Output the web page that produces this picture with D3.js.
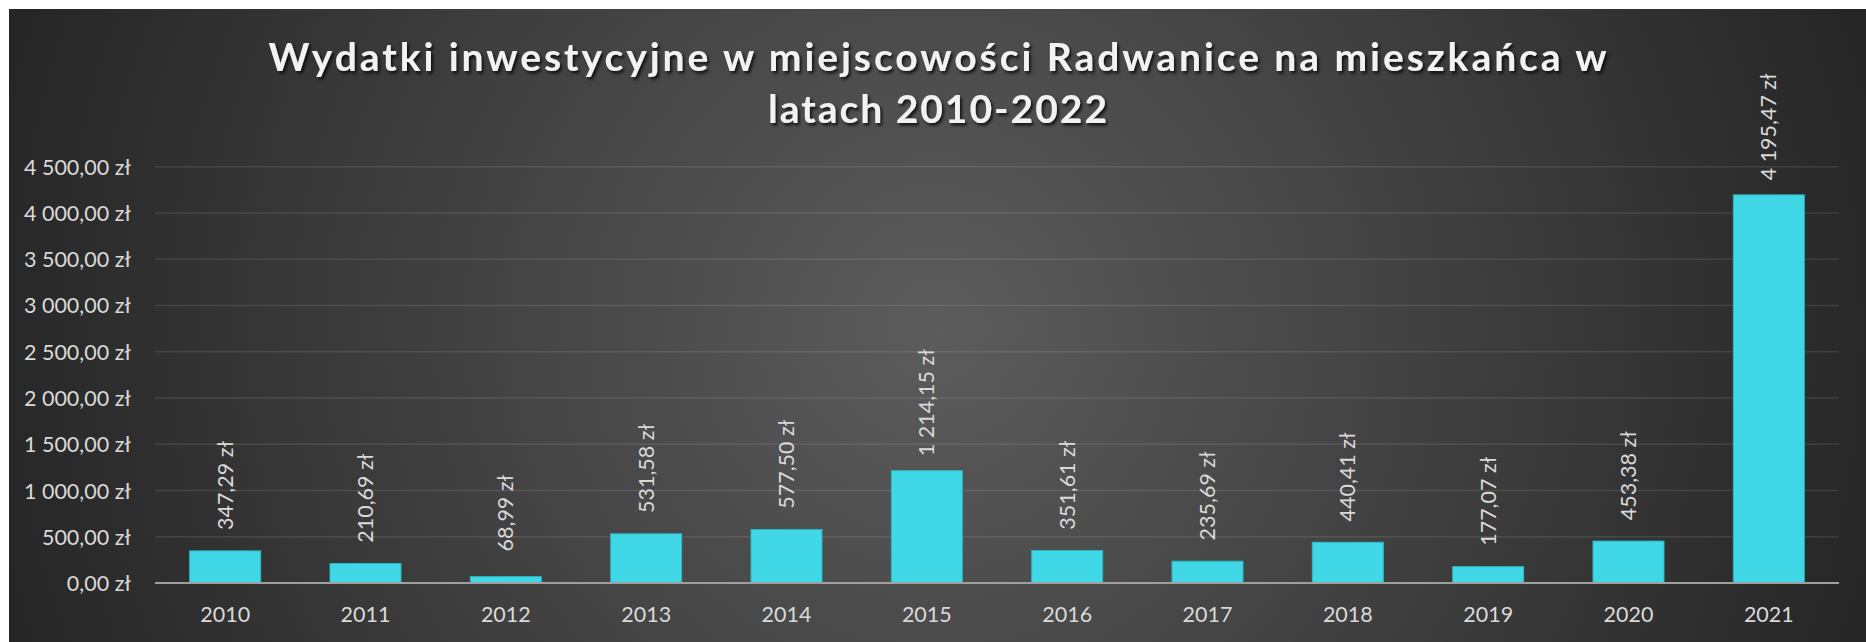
<!DOCTYPE html>
<html>
<head>
<meta charset="utf-8">
<script src="https://cdn.jsdelivr.net/npm/d3@7"></script>
<style>
  html, body { margin: 0; padding: 0; background: #ffffff; }
  svg { display: block; }
</style>
</head>
<body>
<svg id="chart" width="1866" height="642"></svg>
<script>
const categories = ["2010","2011","2012","2013","2014","2015","2016","2017","2018","2019","2020","2021"];
const values = [347.29, 210.69, 68.99, 531.58, 577.50, 1214.15, 351.61, 235.69, 440.41, 177.07, 453.38, 4195.47];
const yTicks = [0, 500, 1000, 1500, 2000, 2500, 3000, 3500, 4000, 4500];
const titleLines = ["Wydatki inwestycyjne w miejscowości Radwanice na mieszkańca w", "latach 2010-2022"];

const W = 1866, H = 642;
const svg = d3.select("#chart");

const pl = d3.formatLocale({decimal: ",", thousands: "\u00a0", grouping: [3], currency: ["", " zł"]});
const fmt = v => pl.format(",.2f")(v) + " zł";

const defs = svg.append("defs");
const grad = defs.append("radialGradient")
  .attr("id", "bg").attr("gradientUnits", "userSpaceOnUse")
  .attr("cx", 937).attr("cy", 330).attr("r", 960);
grad.append("stop").attr("offset", 0).attr("stop-color", "#5c5c5c");
grad.append("stop").attr("offset", 1).attr("stop-color", "#262626");

const sh = defs.append("filter").attr("id", "tshadow").attr("x", "-5%").attr("y", "-30%").attr("width", "110%").attr("height", "160%");
sh.append("feDropShadow").attr("dx", 2).attr("dy", 2.5).attr("stdDeviation", 1.6)
  .attr("flood-color", "#000").attr("flood-opacity", 0.75);

svg.append("rect").attr("x", 9).attr("y", 9).attr("width", W - 9).attr("height", H - 9).attr("fill", "url(#bg)");

const plot = {left: 155, right: 1839, top: 166.7, bottom: 583};

const x = d3.scaleBand().domain(categories).range([plot.left, plot.right])
  .paddingInner(0.494).paddingOuter(0.247);
const y = d3.scaleLinear().domain([0, 4500]).range([plot.bottom, plot.top]);

// gridlines
svg.append("g").selectAll("line").data(yTicks.filter(d => d > 0)).join("line")
  .attr("x1", plot.left).attr("x2", plot.right)
  .attr("y1", d => y(d)).attr("y2", d => y(d))
  .attr("stroke", "rgba(255,255,255,0.1)").attr("stroke-width", 1.5);

// y axis labels
const yAxis = d3.axisLeft(y).tickValues(yTicks).tickFormat(fmt).tickSize(0).tickPadding(0);
const gy = svg.append("g").attr("transform", `translate(131,0)`).call(yAxis);
gy.select(".domain").remove();
gy.selectAll("text").attr("fill", "#d9d9d9").attr("font-family", "Lato, 'Open Sans', sans-serif")
  .attr("font-size", 21.5).attr("dy", "0.35em").attr("x", 0);

// bars
svg.append("g").selectAll("rect").data(values).join("rect")
  .attr("x", (d, i) => x(categories[i]))
  .attr("width", x.bandwidth())
  .attr("y", d => y(d))
  .attr("height", d => plot.bottom - y(d))
  .attr("fill", "#40d8e7")
  .attr("stroke", "#30b4c2").attr("stroke-width", 1);

// x axis
const xAxis = d3.axisBottom(x).tickSize(0).tickPadding(0);
const gx = svg.append("g").attr("transform", `translate(0,${plot.bottom})`).call(xAxis);
gx.select(".domain").remove();
gx.selectAll("text").attr("fill", "#d9d9d9").attr("font-family", "Lato, 'Open Sans', sans-serif")
  .attr("font-size", 21.5).attr("dy", 0).attr("y", 39);
svg.append("line").attr("x1", plot.left).attr("x2", plot.right)
  .attr("y1", plot.bottom).attr("y2", plot.bottom)
  .attr("stroke", "#a0a0a0").attr("stroke-width", 2);

// data labels (rotated)
const lbl = svg.append("g").selectAll("text").data(values).join("text")
  .attr("fill", "#d9d9d9").attr("font-family", "Lato, 'Open Sans', sans-serif")
  .attr("font-size", 21.5).attr("text-anchor", "start").attr("dy", "0.35em")
  .text(d => fmt(d));
lbl.each(function(d, i) {
  const L = this.getComputedTextLength();
  const gap = 52 - 0.35 * L;
  const cx = x(categories[i]) + x.bandwidth() / 2;
  const cy = y(d) - gap;
  d3.select(this).attr("transform", `translate(${cx},${cy}) rotate(-90)`);
});

// title
const titleWidths = [1338, 339];
const titleY = [70.7, 122.7];
svg.append("g").attr("filter", "url(#tshadow)").selectAll("text").data(titleLines).join("text")
  .attr("x", 937.5).attr("y", (d, i) => titleY[i])
  .attr("text-anchor", "middle")
  .attr("fill", "#f2f2f2").attr("font-family", "Lato, 'Open Sans', sans-serif")
  .attr("font-weight", "bold").attr("font-size", 39)
  .attr("textLength", (d, i) => titleWidths[i]).attr("lengthAdjust", "spacing")
  .text(d => d);
</script>
</body>
</html>
